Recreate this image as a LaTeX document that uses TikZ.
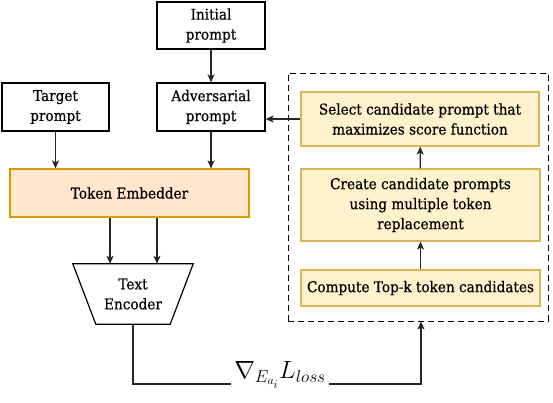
\documentclass[tikz,border=0pt]{standalone}
\usepackage{fontspec}
\setmainfont{DejaVu Serif}[FakeStretch=0.92, FakeBold=0.5]
\usetikzlibrary{arrows.meta,calc}
\definecolor{embfill}{HTML}{FFE6CC}
\definecolor{embline}{HTML}{D79B00}
\definecolor{yfill}{HTML}{FFF2CC}
\definecolor{yline}{HTML}{D6B656}
\begin{document}
\begin{tikzpicture}[x=1pt,y=-1pt,
  every node/.style={font=\fontsize{14.8}{20}\selectfont, align=center, inner sep=0pt},
  plainbox/.style={draw=black, line width=1.2pt, fill=white},
  embbox/.style={draw=embline, line width=1.2pt, fill=embfill},
  ybox/.style={draw=yline, line width=1.2pt, fill=yfill},
  arr/.style={draw=black!85, line width=1.2pt, -{Stealth[length=8pt,width=7pt,inset=2pt]}},
  grpbox/.style={draw=black, line width=1pt, dash pattern=on 6pt off 4pt}]
\useasboundingbox (0,0) rectangle (553,402);
\node[plainbox, minimum width=108pt, minimum height=47pt] (init) at (211,25.5) {Initial\\prompt};
\node[plainbox, minimum width=107pt, minimum height=48pt] (target) at (55.5,107) {Target\\prompt};
\node[plainbox, minimum width=108pt, minimum height=48pt] (adv) at (211,107) {Adversarial\\prompt};
\node[embbox, minimum width=239pt, minimum height=48pt] (emb) at (129.5,193) {Token Embedder};
\node[minimum width=120pt, minimum height=60pt] (enc) at (133,294) {Text\\Encoder};
\draw[line width=1.2pt] (enc.north west) -- (enc.north east) -- ([xshift=-23pt]enc.south east) -- ([xshift=23pt]enc.south west) -- cycle;
\node[grpbox, minimum width=260pt, minimum height=248pt] (grp) at (418,197) {};
\node[ybox, minimum width=238pt, minimum height=54pt] (sel) at (420,119) {Select candidate prompt that\\maximizes score function};
\node[ybox, minimum width=239pt, minimum height=72pt] (cre) at (420.5,205) {Create candidate prompts\\using multiple token\\replacement};
\node[ybox, minimum width=239pt, minimum height=36pt] (comp) at (420.5,288) {Compute Top-k token candidates};
\draw[arr] (init) -- (adv);
\draw[arr] (target) -- (target |- emb.north);
\draw[arr] (adv) -- (adv |- emb.north);
\draw[arr] ([xshift=-19.5pt]emb.south) -- ([xshift=-23pt]enc.north);
\draw[arr] ([xshift=27.5pt]emb.south) -- ([xshift=24pt]enc.north);
\draw[arr] (comp) -- (cre);
\draw[arr] (cre) -- (sel);
\draw[arr] (sel.west) -- (sel.west -| adv.east);
\coordinate (bend) at (421,384);
\draw[arr] (enc.south) |- (bend) -- (bend |- grp.south);
\node[fill=white, inner xsep=3pt, inner ysep=2pt] (lbl) at (280,375) {\fontsize{26}{30}\selectfont $\nabla_{E_{a_i}}L_{loss}$};
\end{tikzpicture}
\end{document}
